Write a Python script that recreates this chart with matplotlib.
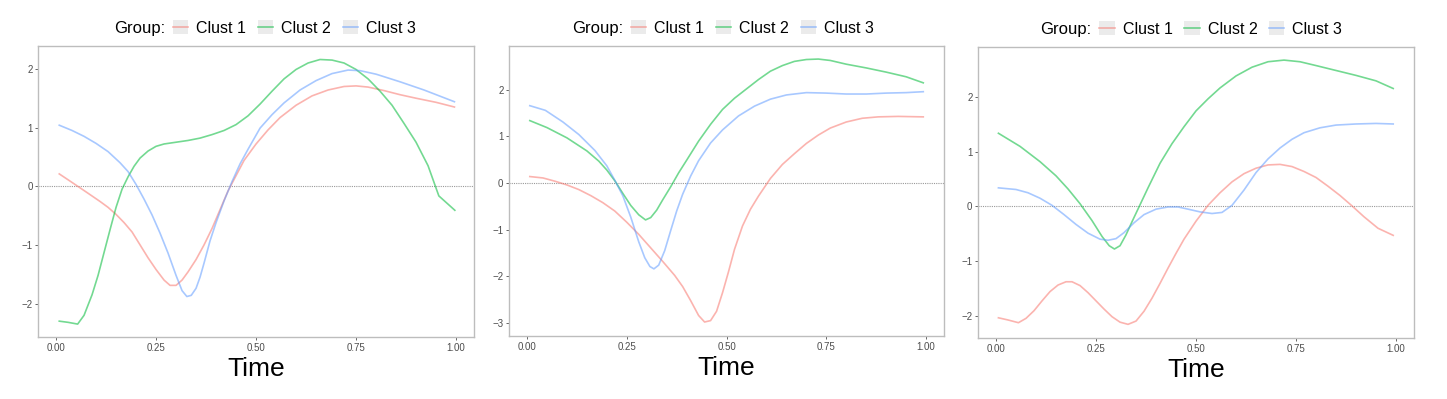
import numpy as np
import matplotlib.pyplot as plt
from matplotlib.patches import Patch
from matplotlib.lines import Line2D
from matplotlib.legend_handler import HandlerTuple

plt.rcParams['font.family'] = ['Liberation Sans', 'DejaVu Sans']

# ---- panel 1 ----
p1_t_c1 = [0.008, 0.03, 0.054, 0.08, 0.11, 0.13, 0.15, 0.17, 0.19, 0.21, 0.23, 0.25, 0.27, 0.285, 0.30,
           0.315, 0.33, 0.35, 0.37, 0.39, 0.41, 0.43, 0.45, 0.47, 0.50, 0.53, 0.56, 0.60, 0.64, 0.68,
           0.72, 0.75, 0.78, 0.82, 0.86, 0.90, 0.95, 0.996]
p1_y_c1 = [0.21, 0.11, 0.0, -0.12, -0.26, -0.36, -0.48, -0.62, -0.78, -1.00, -1.22, -1.42, -1.60, -1.69, -1.69,
           -1.60, -1.46, -1.25, -1.00, -0.72, -0.40, -0.08, 0.18, 0.44, 0.72, 0.96, 1.17, 1.38, 1.54, 1.64,
           1.70, 1.71, 1.69, 1.63, 1.56, 1.50, 1.43, 1.35]
p1_t_c2 = [0.008, 0.03, 0.054, 0.07, 0.09, 0.105, 0.12, 0.135, 0.15, 0.165, 0.18, 0.195, 0.21, 0.23, 0.25,
           0.27, 0.30, 0.33, 0.36, 0.39, 0.42, 0.45, 0.48, 0.51, 0.54, 0.57, 0.60, 0.63, 0.66, 0.69,
           0.72, 0.75, 0.78, 0.81, 0.84, 0.87, 0.90, 0.93, 0.957, 0.997]
p1_y_c2 = [-2.30, -2.32, -2.35, -2.20, -1.85, -1.52, -1.13, -0.74, -0.36, -0.05, 0.16, 0.34, 0.48, 0.60, 0.68,
           0.72, 0.75, 0.78, 0.82, 0.88, 0.95, 1.05, 1.20, 1.40, 1.62, 1.83, 1.99, 2.10, 2.16, 2.15,
           2.10, 1.99, 1.83, 1.62, 1.38, 1.07, 0.75, 0.35, -0.165, -0.41]
p1_t_c3 = [0.008, 0.04, 0.07, 0.10, 0.13, 0.16, 0.18, 0.20, 0.22, 0.24, 0.26, 0.28, 0.30, 0.315, 0.327,
           0.338, 0.35, 0.36, 0.37, 0.385, 0.40, 0.42, 0.44, 0.46, 0.48, 0.51, 0.54, 0.57, 0.61, 0.65,
           0.69, 0.73, 0.76, 0.80, 0.86, 0.92, 0.996]
p1_y_c3 = [1.04, 0.95, 0.85, 0.73, 0.59, 0.40, 0.25, 0.03, -0.22, -0.49, -0.80, -1.14, -1.52, -1.78, -1.88,
           -1.86, -1.74, -1.55, -1.31, -0.93, -0.62, -0.25, 0.08, 0.38, 0.63, 0.99, 1.22, 1.42, 1.64, 1.80,
           1.92, 1.98, 1.97, 1.91, 1.78, 1.64, 1.44]

# ---- panel 2 ----
p2_t_c1 = [0.007, 0.04, 0.07, 0.10, 0.13, 0.16, 0.19, 0.22, 0.25, 0.28, 0.31, 0.34, 0.37, 0.39, 0.41,
           0.43, 0.445, 0.46, 0.475, 0.49, 0.505, 0.52, 0.54, 0.56, 0.58, 0.61, 0.64, 0.67, 0.70, 0.73,
           0.76, 0.80, 0.84, 0.88, 0.93, 0.993]
p2_y_c1 = [0.14, 0.11, 0.04, -0.04, -0.14, -0.27, -0.42, -0.60, -0.84, -1.10, -1.39, -1.68, -1.98, -2.22, -2.52,
           -2.84, -2.98, -2.95, -2.75, -2.35, -1.90, -1.42, -0.92, -0.56, -0.28, 0.10, 0.40, 0.63, 0.85, 1.03,
           1.18, 1.31, 1.39, 1.42, 1.43, 1.42]
p2_t_c2 = [0.007, 0.05, 0.10, 0.15, 0.18, 0.20, 0.22, 0.24, 0.26, 0.28, 0.297, 0.31, 0.325, 0.34, 0.36,
           0.38, 0.40, 0.43, 0.46, 0.49, 0.52, 0.55, 0.58, 0.61, 0.64, 0.67, 0.70, 0.73, 0.76, 0.80,
           0.85, 0.90, 0.95, 0.993]
p2_y_c2 = [1.34, 1.19, 0.97, 0.69, 0.47, 0.28, 0.05, -0.22, -0.48, -0.68, -0.79, -0.74, -0.58, -0.36, -0.08,
           0.22, 0.49, 0.90, 1.26, 1.58, 1.82, 2.02, 2.22, 2.40, 2.52, 2.61, 2.65, 2.66, 2.63, 2.55,
           2.47, 2.38, 2.28, 2.15]
p2_t_c3 = [0.007, 0.046, 0.09, 0.13, 0.17, 0.20, 0.22, 0.24, 0.26, 0.28, 0.295, 0.308, 0.318, 0.33, 0.345,
           0.36, 0.375, 0.39, 0.41, 0.43, 0.46, 0.49, 0.53, 0.57, 0.61, 0.65, 0.70, 0.75, 0.80, 0.85,
           0.90, 0.95, 0.993]
p2_y_c3 = [1.66, 1.56, 1.31, 1.04, 0.70, 0.37, 0.06, -0.27, -0.73, -1.26, -1.60, -1.79, -1.84, -1.76, -1.45,
           -1.02, -0.60, -0.24, 0.15, 0.48, 0.86, 1.14, 1.44, 1.65, 1.80, 1.89, 1.94, 1.93, 1.91, 1.91,
           1.93, 1.94, 1.96]

# ---- panel 3 ----
p3_t_c1 = [0.006, 0.03, 0.056, 0.075, 0.095, 0.115, 0.135, 0.155, 0.175, 0.19, 0.21, 0.23, 0.25, 0.27, 0.29,
           0.31, 0.33, 0.35, 0.37, 0.39, 0.41, 0.43, 0.45, 0.47, 0.50, 0.53, 0.56, 0.59, 0.62, 0.65,
           0.68, 0.71, 0.74, 0.77, 0.80, 0.83, 0.86, 0.89, 0.92, 0.955, 0.993]
p3_y_c1 = [-2.04, -2.08, -2.13, -2.05, -1.91, -1.73, -1.56, -1.44, -1.38, -1.38, -1.45, -1.58, -1.73, -1.88, -2.02,
           -2.12, -2.16, -2.10, -1.92, -1.68, -1.41, -1.13, -0.86, -0.60, -0.27, 0.02, 0.25, 0.45, 0.60, 0.70,
           0.76, 0.77, 0.73, 0.64, 0.53, 0.37, 0.20, 0.01, -0.19, -0.40, -0.53]
p3_t_c2 = [0.006, 0.06, 0.11, 0.15, 0.18, 0.21, 0.24, 0.265, 0.283, 0.296, 0.31, 0.325, 0.34, 0.36, 0.38,
           0.41, 0.44, 0.47, 0.50, 0.53, 0.56, 0.60, 0.64, 0.68, 0.72, 0.76, 0.80, 0.85, 0.90, 0.95,
           0.993]
p3_y_c2 = [1.34, 1.10, 0.82, 0.56, 0.32, 0.05, -0.26, -0.55, -0.72, -0.78, -0.72, -0.52, -0.28, 0.03, 0.34,
           0.79, 1.15, 1.46, 1.75, 1.97, 2.17, 2.39, 2.55, 2.65, 2.68, 2.65, 2.58, 2.49, 2.40, 2.30,
           2.16]
p3_t_c3 = [0.006, 0.05, 0.08, 0.11, 0.14, 0.17, 0.20, 0.23, 0.26, 0.28, 0.30, 0.32, 0.345, 0.37, 0.40,
           0.43, 0.455, 0.48, 0.51, 0.54, 0.565, 0.59, 0.62, 0.65, 0.68, 0.71, 0.74, 0.77, 0.81, 0.85,
           0.90, 0.95, 0.993]
p3_y_c3 = [0.34, 0.31, 0.25, 0.15, 0.02, -0.15, -0.33, -0.49, -0.60, -0.62, -0.59, -0.48, -0.30, -0.15, -0.05,
           -0.01, -0.01, -0.05, -0.10, -0.13, -0.11, 0.02, 0.30, 0.62, 0.87, 1.07, 1.23, 1.35, 1.44, 1.49,
           1.51, 1.52, 1.51]

panels = [
    [(p1_t_c1, p1_y_c1), (p1_t_c2, p1_y_c2), (p1_t_c3, p1_y_c3)],
    [(p2_t_c1, p2_y_c1), (p2_t_c2, p2_y_c2), (p2_t_c3, p2_y_c3)],
    [(p3_t_c1, p3_y_c1), (p3_t_c2, p3_y_c2), (p3_t_c3, p3_y_c3)],
]
labels = ['Clust 1', 'Clust 2', 'Clust 3']
colors = ['#F8766D', '#00BA38', '#619CFF']
ylims = [(-2.57, 2.39), (-3.28, 2.94), (-2.41, 2.92)]
yticks = [[-2, -1, 0, 1, 2], [-3, -2, -1, 0, 1, 2], [-2, -1, 0, 1, 2]]
xticks = [0, 0.25, 0.5, 0.75, 1.0]
xticklabels = ['0.00', '0.25', '0.50', '0.75', '1.00']

# axes boxes [left, bottom, width, height] in figure fractions
boxes = [[0.0263, 0.1554, 0.3013, 0.7293],
         [0.3518, 0.1579, 0.3006, 0.7268],
         [0.6759, 0.1529, 0.3013, 0.7293]]
legend_x = [0.588, 0.56, 0.557]

fig = plt.figure(figsize=(14.47, 3.99), dpi=100)

for i in range(3):
    ax = fig.add_axes(boxes[i])
    ax.axhline(0, color='#9a9a9a', lw=0.8, ls=(0, (1, 1)))
    for (t, y), c, lab in zip(panels[i], colors, labels):
        ax.plot(t, y, color=c, alpha=0.55, lw=1.2, label=lab, solid_joinstyle='round')
    ax.set_xlim(-0.045, 1.045)
    ax.set_ylim(*ylims[i])
    ax.set_xticks(xticks)
    ax.set_xticklabels(xticklabels)
    ax.set_yticks(yticks[i])
    ax.tick_params(axis='both', labelsize=7, colors='#4d4d4d', length=2.5, width=0.6, pad=1.5)
    for s in ax.spines.values():
        s.set_color('#bdbdbd')
        s.set_linewidth(1.0)
    ax.set_xlabel('Time', fontsize=19, color='black', labelpad=3)

    handles = [(Patch(facecolor='#ebebeb', edgecolor='none'),
                Line2D([], [], color=c, alpha=0.55, lw=1.2)) for c in colors]
    leg = ax.legend(handles, labels, handler_map={tuple: HandlerTuple(ndivide=1)},
                    loc='lower center', bbox_to_anchor=(legend_x[i], 1.035), ncol=3, frameon=False,
                    fontsize=11.5, handlelength=0.95, handleheight=0.95, handletextpad=0.5,
                    columnspacing=0.75, borderaxespad=0, borderpad=0)
    ax.annotate('Group:', xy=(0, 0.5), xycoords=leg, xytext=(-8, 0), textcoords='offset pixels',
                ha='right', va='center', fontsize=12, color='black')

fig.savefig('out.png', dpi=100)
